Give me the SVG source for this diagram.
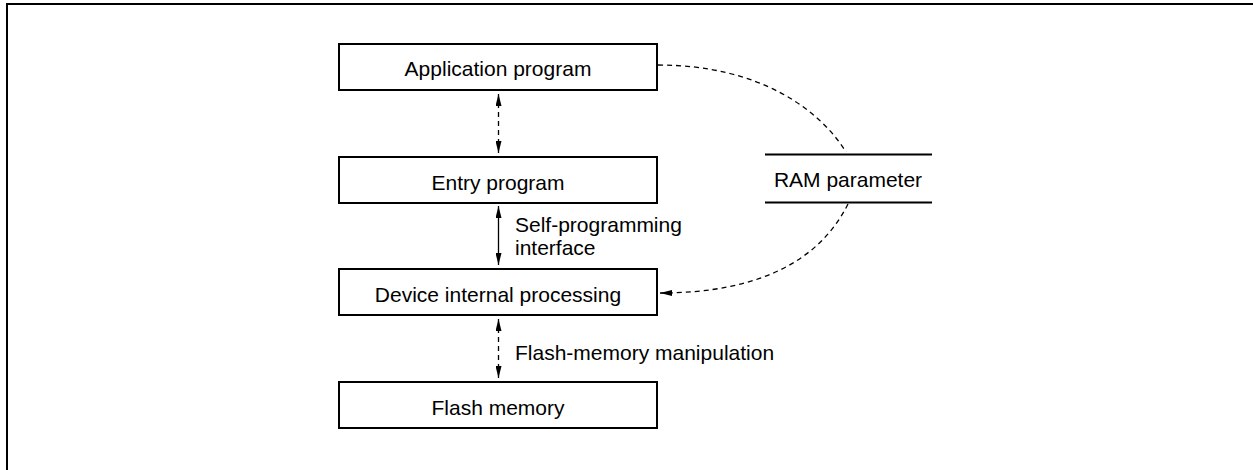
<svg xmlns="http://www.w3.org/2000/svg" width="1253" height="470" viewBox="0 0 1253 470">
<style>
.box{fill:#fff;stroke:#000;stroke-width:2}
.t{font-family:"Liberation Sans",Arial,sans-serif;font-size:21px;fill:#000}
.c{text-anchor:middle}
.ln{fill:none;stroke:#000;stroke-width:1.3}
.d{stroke-dasharray:5 4}
</style>
<defs>
<marker id="ah" viewBox="0 0 12 6" refX="12" refY="3" markerWidth="12" markerHeight="6" markerUnits="userSpaceOnUse" orient="auto-start-reverse">
<path d="M0,0 L12,3 L0,6 Z" fill="#000"/>
</marker>
</defs>
<rect x="7" y="4" width="1270" height="490" fill="none" stroke="#000" stroke-width="2"/>
<g id="app"><rect class="box" x="339" y="44" width="318" height="46"/><text class="t c" x="498" y="76">Application program</text></g>
<g id="entry"><rect class="box" x="339" y="157" width="318" height="46"/><text class="t c" x="498" y="190">Entry program</text></g>
<g id="device"><rect class="box" x="339" y="269" width="318" height="46"/><text class="t c" x="498" y="302">Device internal processing</text></g>
<g id="flash"><rect class="box" x="339" y="382" width="318" height="46"/><text class="t c" x="498" y="415">Flash memory</text></g>
<g id="ram">
<line x1="765" y1="154.5" x2="932" y2="154.5" stroke="#000" stroke-width="2"/>
<line x1="765" y1="202.5" x2="932" y2="202.5" stroke="#000" stroke-width="2"/>
<text class="t c" x="848" y="187">RAM parameter</text>
</g>
<g id="connectors">
<line class="ln d" x1="498.5" y1="94" x2="498.5" y2="153" marker-start="url(#ah)" marker-end="url(#ah)"/>
<line class="ln" x1="498.5" y1="206" x2="498.5" y2="265" marker-start="url(#ah)" marker-end="url(#ah)"/>
<line class="ln d" x1="498.5" y1="319" x2="498.5" y2="378" marker-start="url(#ah)" marker-end="url(#ah)"/>
<path class="ln d" d="M658,65 C760,65 820,110 846,152"/>
<path class="ln d" d="M848,204 C820,260 760,293 660,293" marker-end="url(#ah)"/>
</g>
<g id="labels">
<text class="t" x="515" y="232">Self-programming</text>
<text class="t" x="515" y="255">interface</text>
<text class="t" x="515" y="360">Flash-memory manipulation</text>
</g>
</svg>
